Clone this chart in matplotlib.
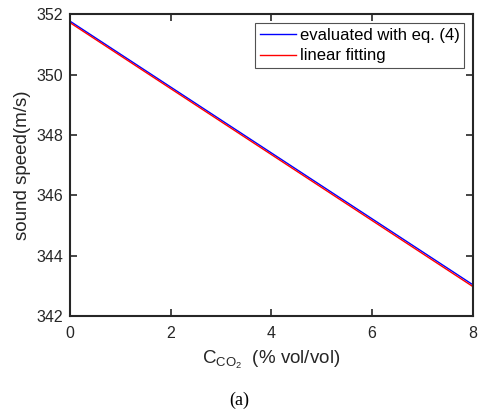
import matplotlib
matplotlib.use("Agg")
import matplotlib.pyplot as plt
import numpy as np

x_eval = [0, 8]
y_eval = [351.77, 343.04]
x_fit = [0, 8]
y_fit = [351.72, 342.98]
xticks = [0, 2, 4, 6, 8]
yticks = [342, 344, 346, 348, 350, 352]

plt.rcParams['font.family'] = ['Liberation Sans', 'DejaVu Sans']
plt.rcParams['mathtext.fontset'] = 'custom'
plt.rcParams['mathtext.rm'] = 'Liberation Sans'
plt.rcParams['mathtext.it'] = 'Liberation Sans'

fig = plt.figure(figsize=(4.79, 4.17), dpi=100)
ax = fig.add_axes([0.146, 0.242, 0.841, 0.724])
ax.plot(x_eval, y_eval, color='#0000ff', lw=1.0, label='evaluated with eq. (4)')
ax.plot(x_fit, y_fit, color='#ff0000', lw=1.0, label='linear fitting')
ax.set_xlim(0, 8)
ax.set_ylim(342, 352)
ax.set_xticks(xticks)
ax.set_yticks(yticks)
ax.tick_params(direction='in', top=True, right=True, length=5, width=1.2,
               labelsize=11.5, colors='#262626')
ax.tick_params(axis='x', pad=7)
ax.tick_params(axis='y', pad=5)
for s in ax.spines.values():
    s.set_linewidth(1.5)
    s.set_color('#262626')
ax.set_ylabel('sound speed(m/s)', fontsize=13.5, color='#262626', labelpad=4)
ax.set_xlabel(r'C$_{\mathrm{CO}_{2}}$  (% vol/vol)', fontsize=13.5, color='#262626', labelpad=6)
leg = ax.legend(loc='upper right', fontsize=12, frameon=True, fancybox=False,
                edgecolor='#262626', handlelength=2.2, handletextpad=0.2,
                borderpad=0.3, labelspacing=0.35, borderaxespad=0.5)
leg.get_frame().set_linewidth(0.8)
fig.text(0.5, 0.02, '(a)', fontsize=13, family='Liberation Serif', ha='center', va='bottom')
fig.savefig('out.png', dpi=100)
